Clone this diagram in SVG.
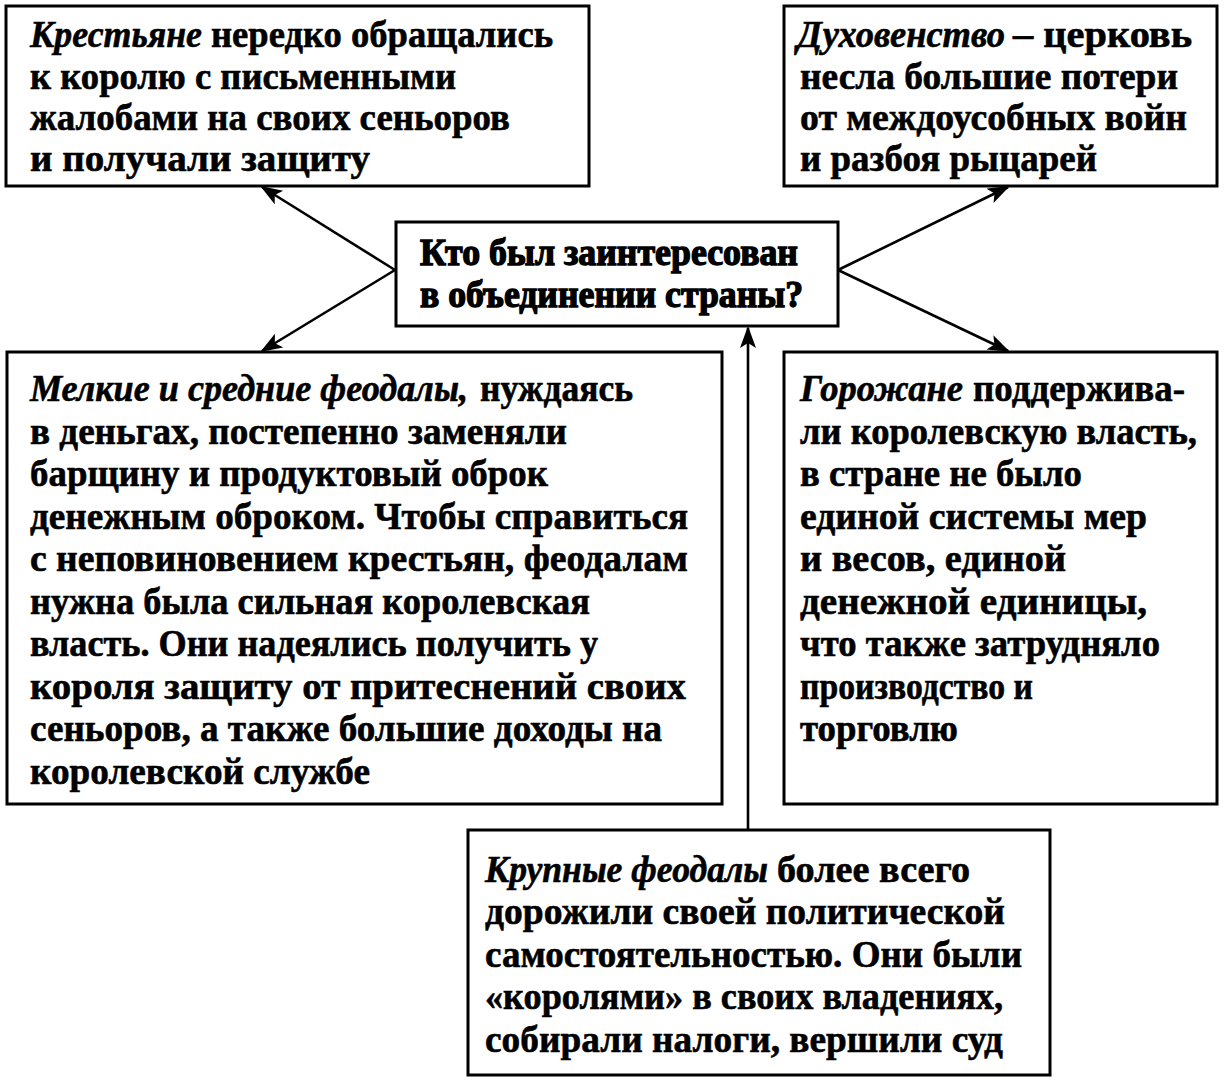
<svg xmlns="http://www.w3.org/2000/svg" width="1224" height="1082" viewBox="0 0 1224 1082">
<style>
.box{fill:#fff;stroke:#000;stroke-width:3}
.t{font-family:"Liberation Serif","Times New Roman",serif;font-weight:bold;font-size:38px;fill:#000;stroke:#000;stroke-width:0.6}
.i{font-style:italic}
.h{stroke-width:1.4}
.c{fill:none;stroke:#000;stroke-width:2.6}
</style>
<defs>
<marker id="ah" markerUnits="userSpaceOnUse" markerWidth="24" markerHeight="18" refX="20" refY="8" orient="auto">
<path d="M0,0 L22,8 L0,16 L5,8 Z" fill="#000"/>
</marker>
</defs>
<rect width="1224" height="1082" fill="#fff"/>
<g id="connectors">
<line class="c" x1="395" y1="270" x2="262" y2="187" marker-end="url(#ah)"/>
<line class="c" x1="395" y1="270" x2="262" y2="351" marker-end="url(#ah)"/>
<line class="c" x1="838" y1="270" x2="1008" y2="187" marker-end="url(#ah)"/>
<line class="c" x1="838" y1="270" x2="1008" y2="351" marker-end="url(#ah)"/>
<line class="c" x1="748" y1="829" x2="748" y2="328" marker-end="url(#ah)"/>
</g>
<g id="krestyane">
<rect class="box" x="6" y="6" width="583" height="180"/>
<text class="t i" x="30" y="47" textLength="172" lengthAdjust="spacingAndGlyphs">Крестьяне</text>
<text class="t" x="211" y="47" textLength="342" lengthAdjust="spacingAndGlyphs">нередко обращались</text>
<text class="t" x="30" y="89" textLength="426" lengthAdjust="spacingAndGlyphs">к королю с письменными</text>
<text class="t" x="30" y="130" textLength="480" lengthAdjust="spacingAndGlyphs">жалобами на своих сеньоров</text>
<text class="t" x="30" y="171" textLength="340" lengthAdjust="spacingAndGlyphs">и получали защиту</text>
</g>
<g id="duhovenstvo">
<rect class="box" x="784" y="6" width="433" height="180"/>
<text class="t i" x="797" y="47" textLength="208" lengthAdjust="spacingAndGlyphs">Духовенство</text>
<text class="t" x="1013" y="47" textLength="179" lengthAdjust="spacingAndGlyphs">– церковь</text>
<text class="t" x="800" y="89" textLength="378" lengthAdjust="spacingAndGlyphs">несла большие потери</text>
<text class="t" x="800" y="130" textLength="387" lengthAdjust="spacingAndGlyphs">от междоусобных войн</text>
<text class="t" x="800" y="171" textLength="297" lengthAdjust="spacingAndGlyphs">и разбоя рыцарей</text>
</g>
<g id="center">
<rect class="box" x="396" y="222" width="442" height="104"/>
<text class="t h" x="420" y="265" textLength="378" lengthAdjust="spacingAndGlyphs">Кто был заинтересован</text>
<text class="t h" x="420" y="307" textLength="383" lengthAdjust="spacingAndGlyphs">в объединении страны?</text>
</g>
<g id="melkie">
<rect class="box" x="7" y="352" width="715" height="452"/>
<text class="t i" x="30" y="401" textLength="438" lengthAdjust="spacingAndGlyphs">Мелкие и средние феодалы,</text>
<text class="t" x="480" y="401" textLength="153" lengthAdjust="spacingAndGlyphs">нуждаясь</text>
<text class="t" x="30" y="444" textLength="537" lengthAdjust="spacingAndGlyphs">в деньгах, постепенно заменяли</text>
<text class="t" x="30" y="486" textLength="518" lengthAdjust="spacingAndGlyphs">барщину и продуктовый оброк</text>
<text class="t" x="30" y="529" textLength="658" lengthAdjust="spacingAndGlyphs">денежным оброком. Чтобы справиться</text>
<text class="t" x="30" y="571" textLength="658" lengthAdjust="spacingAndGlyphs">с неповиновением крестьян, феодалам</text>
<text class="t" x="30" y="614" textLength="560" lengthAdjust="spacingAndGlyphs">нужна была сильная королевская</text>
<text class="t" x="30" y="656" textLength="568" lengthAdjust="spacingAndGlyphs">власть. Они надеялись получить у</text>
<text class="t" x="30" y="699" textLength="656" lengthAdjust="spacingAndGlyphs">короля защиту от притеснений своих</text>
<text class="t" x="30" y="741" textLength="632" lengthAdjust="spacingAndGlyphs">сеньоров, а также большие доходы на</text>
<text class="t" x="30" y="784" textLength="340" lengthAdjust="spacingAndGlyphs">королевской службе</text>
</g>
<g id="gorozhane">
<rect class="box" x="784" y="352" width="433" height="452"/>
<text class="t i" x="800" y="401" textLength="163" lengthAdjust="spacingAndGlyphs">Горожане</text>
<text class="t" x="973" y="401" textLength="212" lengthAdjust="spacingAndGlyphs">поддержива-</text>
<text class="t" x="800" y="444" textLength="397" lengthAdjust="spacingAndGlyphs">ли королевскую власть,</text>
<text class="t" x="800" y="486" textLength="282" lengthAdjust="spacingAndGlyphs">в стране не было</text>
<text class="t" x="800" y="529" textLength="347" lengthAdjust="spacingAndGlyphs">единой системы мер</text>
<text class="t" x="800" y="571" textLength="266" lengthAdjust="spacingAndGlyphs">и весов, единой</text>
<text class="t" x="800" y="614" textLength="347" lengthAdjust="spacingAndGlyphs">денежной единицы,</text>
<text class="t" x="800" y="656" textLength="360" lengthAdjust="spacingAndGlyphs">что также затрудняло</text>
<text class="t" x="800" y="699" textLength="233" lengthAdjust="spacingAndGlyphs">производство и</text>
<text class="t" x="800" y="741" textLength="158" lengthAdjust="spacingAndGlyphs">торговлю</text>
</g>
<g id="krupnye">
<rect class="box" x="468" y="830" width="582" height="245"/>
<text class="t i" x="485" y="882" textLength="283" lengthAdjust="spacingAndGlyphs">Крупные феодалы</text>
<text class="t" x="777" y="882" textLength="193" lengthAdjust="spacingAndGlyphs">более всего</text>
<text class="t" x="485" y="924" textLength="520" lengthAdjust="spacingAndGlyphs">дорожили своей политической</text>
<text class="t" x="485" y="967" textLength="537" lengthAdjust="spacingAndGlyphs">самостоятельностью. Они были</text>
<text class="t" x="485" y="1009" textLength="518" lengthAdjust="spacingAndGlyphs">«королями» в своих владениях,</text>
<text class="t" x="485" y="1052" textLength="518" lengthAdjust="spacingAndGlyphs">собирали налоги, вершили суд</text>
</g>
</svg>
